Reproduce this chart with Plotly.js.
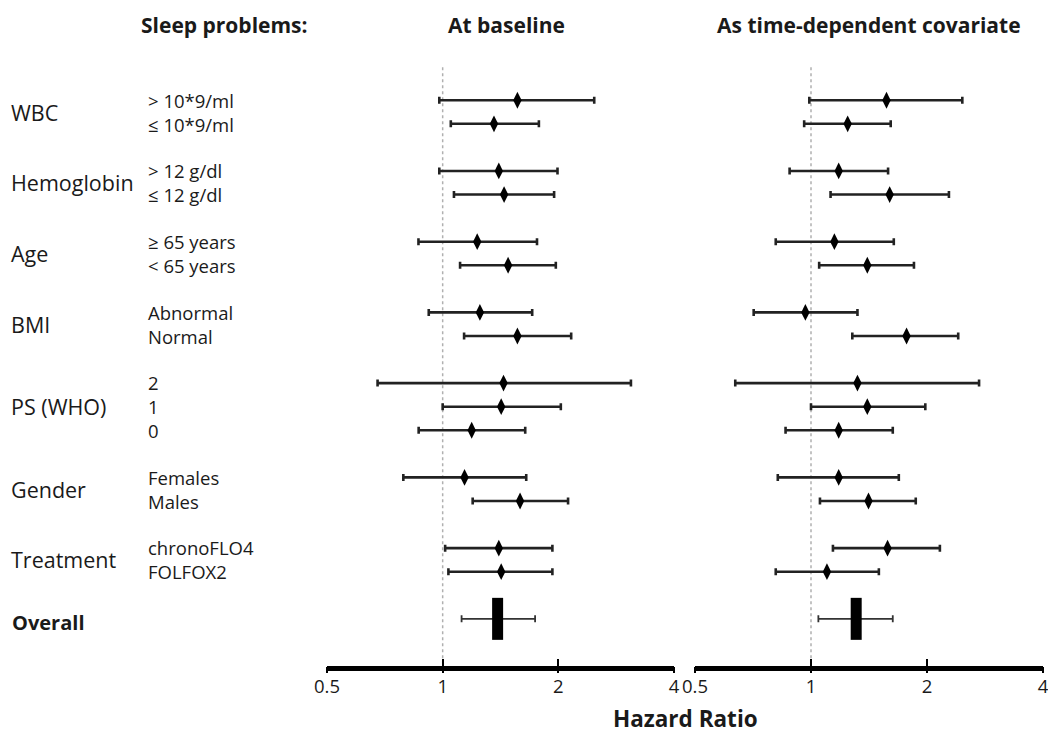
<!DOCTYPE html>
<html>
<head>
<meta charset="utf-8">
<script src="https://cdn.plot.ly/plotly-3.0.1.min.js"></script>
<style>html,body{margin:0;padding:0;background:#fff;}#chart{width:1048px;height:734px;}</style>
</head>
<body>
<div id="chart"></div>
<script>
// ---- Data ----
const groups = ["WBC", "Hemoglobin", "Age", "BMI", "PS (WHO)", "Gender", "Treatment"];
const subLabels = [
  ["> 10*9/ml", "≤ 10*9/ml"],
  ["> 12 g/dl", "≤ 12 g/dl"],
  ["≥ 65 years", "< 65 years"],
  ["Abnormal", "Normal"],
  ["2", "1", "0"],
  ["Females", "Males"],
  ["chronoFLO4", "FOLFOX2"]
];
// At baseline
const baseHR = [1.565, 1.36, 1.40, 1.445, 1.23, 1.48, 1.25, 1.565, 1.44, 1.42, 1.19, 1.14, 1.59, 1.40, 1.42];
const baseLo = [0.98, 1.05, 0.98, 1.07, 0.865, 1.11, 0.92, 1.137, 0.677, 1.00, 0.866, 0.79, 1.197, 1.015, 1.035];
const baseHi = [2.48, 1.78, 1.99, 1.95, 1.76, 1.97, 1.71, 2.16, 3.09, 2.03, 1.64, 1.65, 2.12, 1.93, 1.93];
const baseOverall = [1.39, 1.12, 1.74]; // HR, lo, hi
// As time-dependent covariate
const tdHR = [1.57, 1.245, 1.18, 1.60, 1.15, 1.40, 0.967, 1.77, 1.32, 1.40, 1.18, 1.18, 1.41, 1.58, 1.10];
const tdLo = [0.99, 0.96, 0.88, 1.124, 0.81, 1.05, 0.71, 1.28, 0.636, 1.00, 0.859, 0.82, 1.055, 1.14, 0.81];
const tdHi = [2.47, 1.61, 1.585, 2.28, 1.64, 1.85, 1.32, 2.41, 2.73, 1.98, 1.63, 1.69, 1.87, 2.16, 1.50];
const tdOverall = [1.31, 1.045, 1.63];
const tickVals = [0.5, 1, 2, 4];
const tickText = ["0.5", "1", "2", "4"];
const panelTitles = ["Sleep problems:", "At baseline", "As time-dependent covariate"];
const overallLabel = "Overall";
const axisTitle = "Hazard Ratio";

// ---- Row positions (with a blank row between groups) ----
const rowPos = [];
const groupPos = [];
let k = 0;
subLabels.forEach(function (subs) {
  const start = k;
  subs.forEach(function () { rowPos.push(k); k += 1; });
  groupPos.push((start + k - 1) / 2);
  k += 1;
});
const overallPos = k;

const FONT = "Open Sans, sans-serif";
const INK = "#1a1a1a";

function diff(a, b) { return a.map(function (v, i) { return v - b[i]; }); }

function rowTrace(hr, lo, hi, xa) {
  return {
    type: "scatter", mode: "markers", xaxis: xa, yaxis: "y",
    x: hr, y: rowPos,
    marker: { symbol: "diamond-tall", size: 12, color: "#000", line: { width: 0 } },
    error_x: { type: "data", symmetric: false, array: diff(hi, hr), arrayminus: diff(hr, lo),
      color: "#222", thickness: 2.6, width: 3.5 },
    hoverinfo: "skip", showlegend: false
  };
}
function overallTrace(ov, xa) {
  return {
    type: "scatter", mode: "markers", xaxis: xa, yaxis: "y",
    x: [ov[0]], y: [overallPos],
    marker: { symbol: "line-ns", size: 30, color: "#000", line: { width: 11, color: "#000" } },
    error_x: { type: "data", symmetric: false, array: [ov[2] - ov[0]], arrayminus: [ov[0] - ov[1]],
      color: "#333", thickness: 1.8, width: 3.5 },
    hoverinfo: "skip", showlegend: false
  };
}
function refLine(xa) {
  return {
    type: "scatter", mode: "lines", xaxis: xa, yaxis: "y",
    x: [1, 1], y: [-1.4, overallPos + 1.9],
    line: { color: "#b0b0b0", width: 1.5, dash: "dot" },
    hoverinfo: "skip", showlegend: false
  };
}
function emptyTrace(xa) {
  return { type: "scatter", mode: "markers", xaxis: xa, yaxis: "y", x: [], y: [],
    hoverinfo: "skip", showlegend: false };
}

const data = [
  refLine("x"), refLine("x2"),
  rowTrace(baseHR, baseLo, baseHi, "x"),
  rowTrace(tdHR, tdLo, tdHi, "x2"),
  overallTrace(baseOverall, "x"),
  overallTrace(tdOverall, "x2"),
  emptyTrace("x3"), emptyTrace("x4")
];

const W = 1048, H = 734;
const xr = [Math.log10(0.5), Math.log10(4)];
function mainAxis(domain) {
  return {
    type: "log", range: xr, domain: domain, anchor: "y",
    tickmode: "array", tickvals: tickVals, ticktext: tickText,
    ticks: "inside", ticklen: 7, tickwidth: 2, tickcolor: "#000",
    showline: true, linewidth: 5, linecolor: "#000",
    showgrid: false, zeroline: false, ticklabeloverflow: "allow",
    tickfont: { family: FONT, size: 18.5, color: INK }
  };
}
function tickAxis(over) {
  return {
    type: "log", range: xr, overlaying: over, anchor: "y",
    tickmode: "array", tickvals: tickVals,
    ticks: "outside", ticklen: 6, tickwidth: 2, tickcolor: "#000",
    showticklabels: false, showline: false, showgrid: false, zeroline: false
  };
}

const annotations = [];
groups.forEach(function (g, i) {
  annotations.push({ text: g, xref: "paper", yref: "y", x: 10 / W, y: groupPos[i],
    xanchor: "left", yanchor: "middle", showarrow: false, borderpad: 0,
    font: { family: FONT, size: 21.5, color: INK } });
  // sub-labels of a group as one multi-line text block
  annotations.push({ text: subLabels[i].join("<br>"), xref: "paper", yref: "y", x: 147 / W, y: groupPos[i],
    xanchor: "left", yanchor: "middle", align: "left", showarrow: false, borderpad: 0,
    font: { family: FONT, size: 18.5, color: INK } });
});
annotations.push({ text: "<b>" + overallLabel + "</b>", xref: "paper", yref: "y", x: 10 / W, y: overallPos + 0.15,
  xanchor: "left", yanchor: "middle", showarrow: false,
  font: { family: FONT, size: 20, color: INK } });
const titleX = [224, 506, 869];
panelTitles.forEach(function (t, i) {
  annotations.push({ text: "<b>" + t + "</b>", xref: "paper", yref: "paper", x: titleX[i] / W, y: 1 - 25 / H,
    xanchor: "center", yanchor: "middle", showarrow: false,
    font: { family: FONT, size: 21, color: INK } });
});
annotations.push({ text: "<b>" + axisTitle + "</b>", xref: "paper", yref: "paper", x: 685 / W, y: 1 - 718 / H,
  xanchor: "center", yanchor: "middle", showarrow: false,
  font: { family: FONT, size: 22.5, color: INK } });

const layout = {
  width: W, height: H,
  margin: { l: 0, r: 0, t: 0, b: 0 },
  paper_bgcolor: "#fff", plot_bgcolor: "rgba(0,0,0,0)",
  showlegend: false,
  xaxis: mainAxis([327 / W, 674 / W]),
  xaxis2: mainAxis([695 / W, 1043 / W]),
  xaxis3: tickAxis("x"),
  xaxis4: tickAxis("x2"),
  yaxis: { range: [overallPos + 2, -100.7 / 23.68], domain: [(H - 666) / H, 1], visible: false, fixedrange: true },
  annotations: annotations
};

Plotly.newPlot("chart", data, layout, { displayModeBar: false, staticPlot: true });
</script>
</body>
</html>
